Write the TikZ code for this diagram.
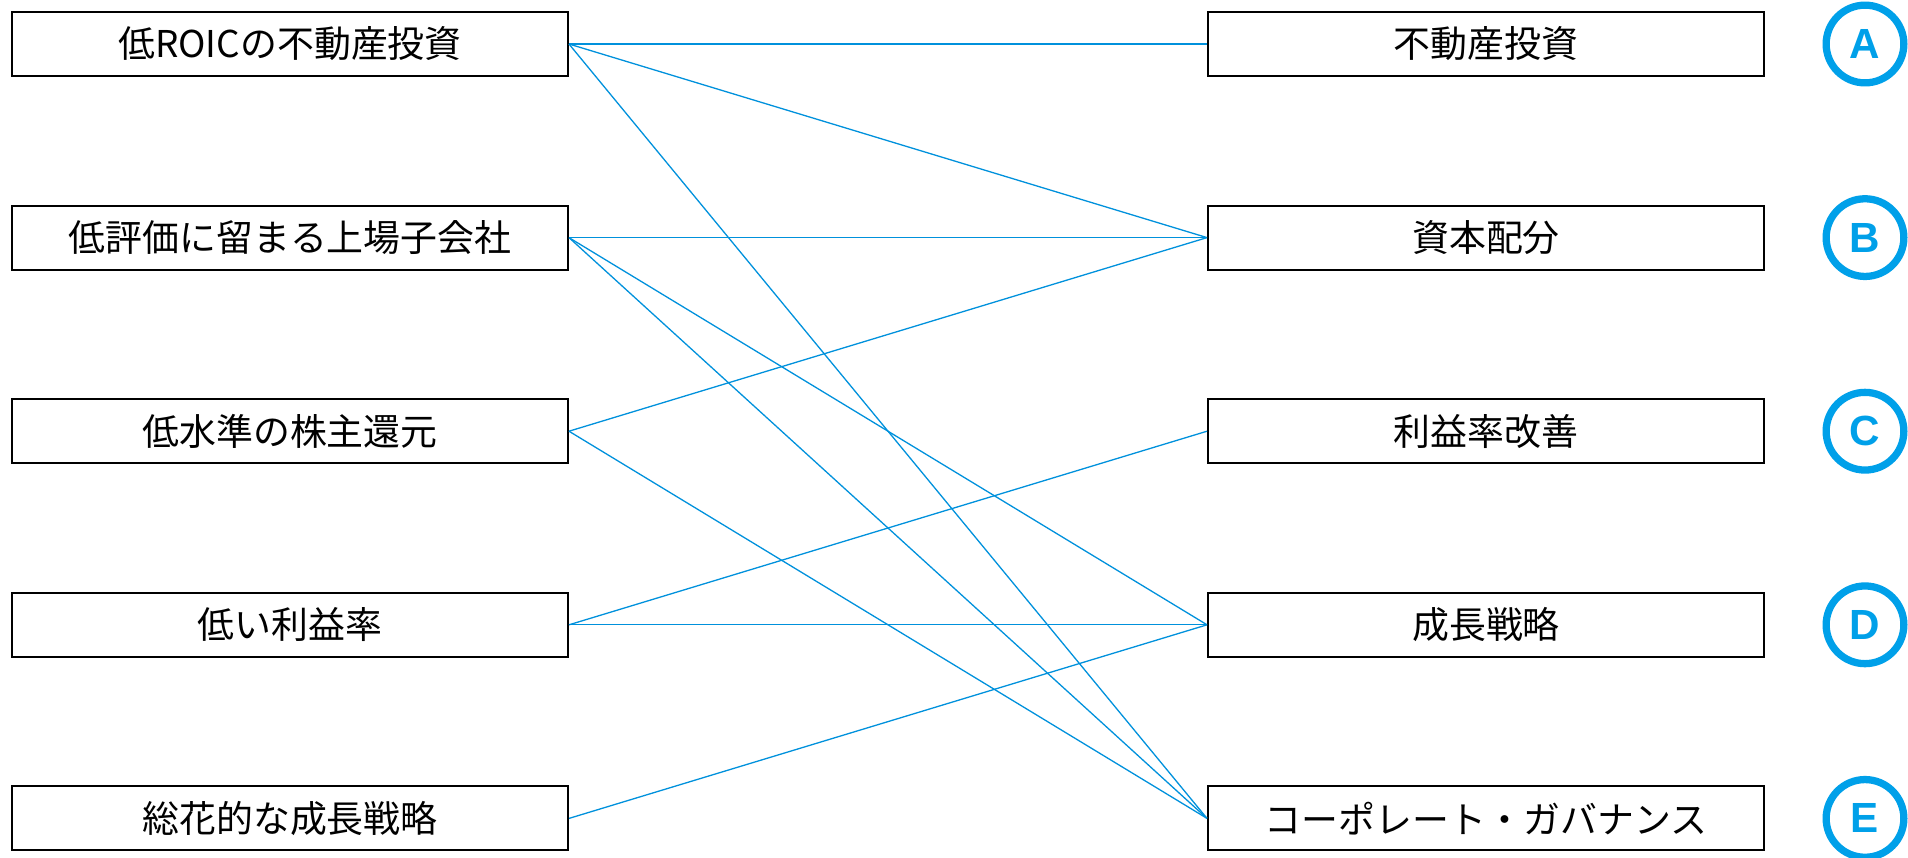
\documentclass[tikz,border=0pt]{standalone}
\usepackage{fontspec}
\setsansfont{Liberation Sans}
\newfontfamily\jp{Noto Sans CJK JP}
\usetikzlibrary{positioning}
\definecolor{linkblue}{RGB}{0,145,220}
\definecolor{markblue}{RGB}{0,160,233}

\begin{document}
\begin{tikzpicture}[
    font=\jp\fontsize{10.5}{12}\selectfont,
    issue/.style={draw=black, line width=0.55pt, minimum width=55.6mm,
        minimum height=6.4mm, inner sep=0pt},
    theme/.style={issue},
    badge/.style={draw=markblue, line width=2.07pt, circle, minimum size=7.77mm,
        inner sep=0pt, text=markblue, font=\sffamily\bfseries\fontsize{12}{12}\selectfont},
    link/.style={draw=linkblue, line width=0.37pt}
]
\useasboundingbox (0,0) rectangle (190.8mm,-85.7mm);
\foreach \r/\issuetext/\themetext/\letter in {
  1/低ROICの不動産投資/不動産投資/A,
  2/低評価に留まる上場子会社/資本配分/B,
  3/低水準の株主還元/利益率改善/C,
  4/低い利益率/成長戦略/D,
  5/総花的な成長戦略/コーポレート・ガバナンス/E}{
    \pgfmathsetmacro{\yy}{-4.4-(\r-1)*19.36}
    \node[issue] (i\r) at (29mm,\yy mm) {\issuetext};
    \node[theme] (t\r) at (148.6mm,\yy mm) {\themetext};
    \node[badge] (b\r) at (186.5mm,\yy mm) {\letter};
}
\foreach \a/\b in {1/1,1/2,1/5,2/2,2/4,2/5,3/2,3/5,4/3,4/4,5/4}
    \draw[link] (i\a.east) -- (t\b.west);
\end{tikzpicture}
\end{document}
